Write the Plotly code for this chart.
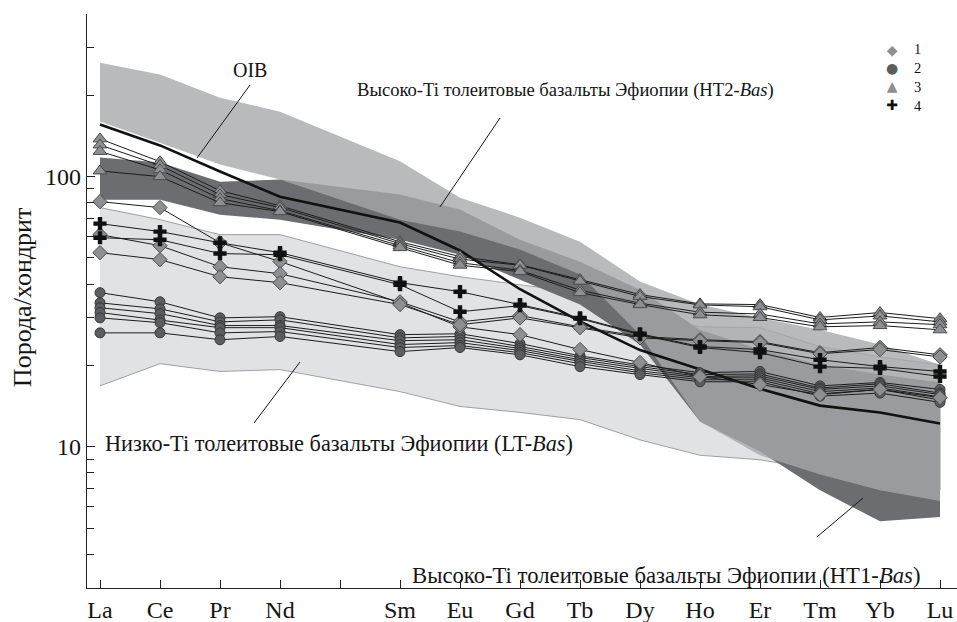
import plotly.graph_objects as go

# ---------------- data ----------------
elements = ["La", "Ce", "Pr", "Nd", "Pm", "Sm", "Eu", "Gd", "Tb", "Dy", "Ho", "Er", "Tm", "Yb", "Lu"]
ree = [e for e in elements if e != "Pm"]
xpos = [elements.index(e) for e in ree]
tick_labels = [e if e != "Pm" else "" for e in elements]

# OIB (Sun & McDonough), chondrite-normalised
oib = [156, 130.5, 104.5, 84.2, 67.6, 53.3, 38.3, 29.1, 22.8, 19.4, 16.4, 14.2, 13.4, 12.2]

# fields
lt_upper = [76.8, 69.3, 61.0, 61.0, 46.4, 42.6, 39.8, 37.2, 31.4, 27.8, 27.6, 23.5, 21.5, 20.1]
lt_lower = [16.8, 20.3, 19.0, 19.3, 16.0, 14.1, 13.4, 12.6, 10.6, 9.3, 8.95, 8.2, 7.55, 6.9]
ht2_upper = [264, 239, 196, 174, 114, 83.6, 70.5, 57.4, 40.9, 33.6, 30.0, 27.1, 23.9, 20.1]
ht2_lower = [160, 133.6, 110.8, 97.5, 69.3, 62.6, 53.7, 43.4, 26.0, 12.4, 9.3, 7.9, 6.9, 6.3]
ht1_upper = [117.6, 112.7, 95.8, 97.5, 85.8, 75.5, 58.4, 48.4, 38.1, 27.1, 22.9, 20.1, 18.5, 17.3]
ht1_lower = [82.2, 82.2, 72.3, 69.3, 58.4, 51.4, 41.6, 33.6, 23.9, 12.4, 9.6, 6.9, 5.3, 5.5]

# group 1 (diamonds)
g1_a = [80.8, 76.8, 56.9, 48.5, 34.1, 27.8, 26.0, 22.9, 20.5, 18.2, 17.0, 15.6, 16.3, 15.2]
g1_b = [61.0, 55.5, 46.4, 43.7, 34.4, 29.0, 30.6, 27.8, 25.6, 24.9, 24.5, 22.3, 23.3, 21.9]
g1_c = [52.3, 49.3, 42.6, 40.5, 33.6, 28.3, 30.0, 27.6, 25.3, 24.7, 24.3, 22.1, 22.9, 21.5]

# group 2 (circles)
g2_a = [37.2, 34.4, 30.0, 30.3, 26.0, 26.2, 24.1, 21.7, 20.1, 18.8, 19.0, 16.8, 17.3, 16.3]
g2_b = [34.1, 32.4, 29.0, 29.5, 25.3, 25.6, 23.5, 21.4, 19.8, 18.5, 18.6, 16.5, 17.1, 15.8]
g2_c = [32.7, 31.1, 28.1, 28.1, 24.7, 24.9, 23.1, 21.0, 19.5, 18.2, 18.3, 16.3, 16.8, 15.6]
g2_d = [31.4, 29.5, 27.6, 27.6, 23.9, 24.3, 22.7, 20.7, 19.1, 18.0, 18.0, 16.0, 16.5, 15.3]
g2_e = [30.0, 28.8, 26.4, 26.7, 23.3, 23.7, 22.3, 20.3, 18.8, 17.7, 17.7, 15.7, 16.3, 14.9]
g2_f = [26.4, 26.4, 24.9, 25.6, 22.5, 23.3, 21.9, 19.8, 18.5, 17.4, 17.4, 15.4, 15.8, 14.6]

# group 3 (triangles)
g3_a = [138, 113.6, 88.7, 78.0, 57.4, 50.6, 47.2, 41.6, 36.6, 33.8, 33.6, 30.1, 31.4, 29.8]
g3_b = [131, 110, 85.8, 76.8, 56.5, 49.5, 47.0, 41.0, 36.0, 33.5, 33.0, 29.5, 30.5, 29.0]
g3_c = [124, 106, 82.9, 74.8, 55.5, 48.0, 45.0, 38.0, 34.0, 31.5, 31.0, 28.5, 29.0, 28.3]
g3_d = [105, 100, 80.1, 74.2, 54.6, 47.0, 44.5, 37.2, 33.6, 30.8, 30.1, 27.8, 28.1, 27.1]

# group 4 (crosses)
g4_a = [67.0, 62.6, 56.9, 52.3, 40.5, 37.5, 33.6, 30.0, 26.2, 23.5, 22.9, 21.0, 19.8, 19.0]
g4_b = [59.4, 58.4, 51.9, 51.4, 39.8, 31.6, 33.3, 29.8, 26.0, 23.3, 22.3, 19.8, 19.5, 18.2]

legend_names = ["1", "2", "3", "4"]
legend_glyphs = ["◆", "●", "▲", "✚"]
legend_colors = ["#8e8f92", "#5c5d60", "#8e8f92", "#111111"]
y_major = [10, 100]
y_minor = [3, 4, 5, 6, 7, 8, 9, 20, 30, 40, 50, 60, 70, 80, 90, 200, 300, 400]

# ---------------- styles ----------------
FONT = "Liberation Serif, Times New Roman, serif"
LINE_COL = "#1c1c1c"
marker_styles = {
    "1": dict(symbol="diamond", size=11, color="#8e8f92", line=dict(color="#4a4a4c", width=1)),
    "2": dict(symbol="circle", size=10, color="#5c5d60", line=dict(color="#38383a", width=1)),
    "3": dict(symbol="triangle-up", size=12, color="#8e8f92", line=dict(color="#4a4a4c", width=1)),
    "4": dict(symbol="cross", size=11, color="#111111", line=dict(width=0)),
}

fig = go.Figure()


def band(upper, lower, fillcolor, linecolor, lw):
    fig.add_trace(go.Scatter(
        x=xpos + xpos[::-1], y=upper + lower[::-1], mode="lines", fill="toself",
        fillcolor=fillcolor, line=dict(color=linecolor, width=lw),
        hoverinfo="skip", showlegend=False))


band(lt_upper, lt_lower, "#e1e2e4", "#8c8c8e", 0.8)
band(ht1_upper, ht1_lower, "#6c6d70", "rgba(0,0,0,0)", 0)
band(ht2_upper, ht2_lower, "rgba(166,167,170,0.79)", "rgba(0,0,0,0)", 0)

fig.add_trace(go.Scatter(x=xpos, y=oib, mode="lines", line=dict(color="#111111", width=2.6),
                         hoverinfo="skip", showlegend=False))

groups = [
    ("2", [g2_a, g2_b, g2_c, g2_d, g2_e, g2_f]),
    ("1", [g1_a, g1_b, g1_c]),
    ("4", [g4_a, g4_b]),
    ("3", [g3_a, g3_b, g3_c, g3_d]),
]
for key, series in groups:
    for s in series:
        fig.add_trace(go.Scatter(x=xpos, y=s, mode="lines+markers", name=key,
                                 legendgroup=key, line=dict(color=LINE_COL, width=1),
                                 marker=marker_styles[key], showlegend=False))

# ---------------- annotations ----------------
def ann(text, x, y, size, xanchor="left", family=FONT, color="#151515", align="left"):
    return dict(text=text, x=x, y=y, xref="paper", yref="paper", showarrow=False,
                xanchor=xanchor, yanchor="middle", align=align,
                font=dict(family=family, size=size, color=color))


annotations = [
    ann("OIB", 0.1874, 0.9024, 20, "center"),
    ann("Высоко-Ti толеитовые базальты Эфиопии (HT2-<i>Bas</i>)", 0.308, 0.8676, 18.6),
    ann("Низко-Ti толеитовые базальты Эфиопии (LT-<i>Bas</i>)", 0.0184, 0.2526, 22.3),
    ann("Высоко-Ti толеитовые базальты Эфиопии (HT1-<i>Bas</i>)", 0.3713, 0.0226, 22.7),
    dict(text="Порода/хондрит", x=-0.0747, y=0.505, xref="paper", yref="paper", showarrow=False,
         textangle=-90, xanchor="center", yanchor="middle",
         font=dict(family=FONT, size=26, color="#151515")),
]

# legend (key glyphs + labels) in the upper right, one block per column
glyph_block = "<br>".join(f"<span style='color:{c}'>{g}</span>"
                          for g, c in zip(legend_glyphs, legend_colors))
name_block = "<br>".join(legend_names)
annotations.append(ann(glyph_block, 0.9253, 0.890, 14, "center", family="DejaVu Sans", align="center"))
annotations.append(ann(name_block, 0.9483, 0.890, 14.5, "left"))

leaders = [
    (0.1874, 0.8763, 0.1264, 0.7491),
    (0.4747, 0.8188, 0.4057, 0.6638),
    (0.2448, 0.3937, 0.1920, 0.2875),
    (0.8390, 0.0889, 0.8920, 0.1568),
]
shapes = [dict(type="line", xref="paper", yref="paper", x0=a, y0=b, x1=c, y1=d,
               line=dict(color="#151515", width=1)) for a, b, c, d in leaders]

fig.update_layout(
    width=957, height=622,
    margin=dict(l=87, r=0, t=14, b=34),
    paper_bgcolor="white", plot_bgcolor="white",
    font=dict(family=FONT, color="#151515"),
    annotations=annotations, shapes=shapes,
    showlegend=False,
    xaxis=dict(range=[-0.2167, 14.283], tickmode="array", tickvals=list(range(len(elements))),
               ticktext=tick_labels, ticks="inside", ticklen=8, tickwidth=1.2, tickcolor="#222",
               showline=True, linecolor="#222", linewidth=1.3, showgrid=False, zeroline=False,
               tickfont=dict(family=FONT, size=24, color="#151515")),
    yaxis=dict(type="log", range=[0.47712, 2.60206], tickmode="array", tickvals=y_major,
               ticktext=[str(v) for v in y_major], ticks="inside", ticklen=8, tickwidth=1.2,
               tickcolor="#222", showline=True, linecolor="#222", linewidth=1.3, showgrid=False,
               zeroline=False, tickfont=dict(family=FONT, size=24, color="#151515"),
               minor=dict(tickmode="array", tickvals=y_minor, ticks="inside", ticklen=7,
                          tickwidth=1.2, tickcolor="#222", showgrid=False)),
)

fig.write_html("out.html")
